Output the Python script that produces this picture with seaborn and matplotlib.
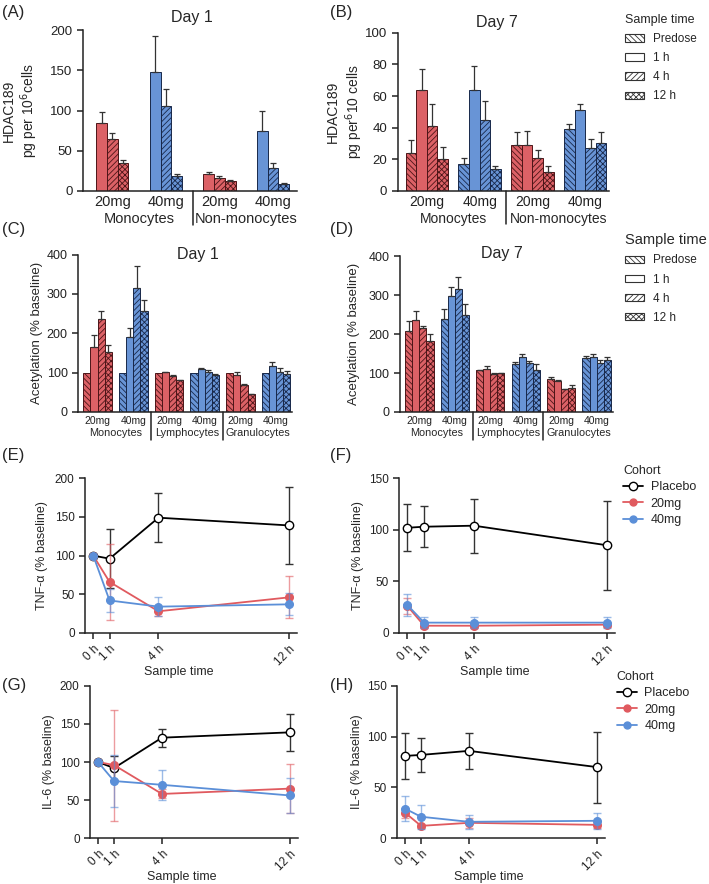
import numpy as np
import pandas as pd
import seaborn as sns
import matplotlib.pyplot as plt
from matplotlib.patches import Patch
from matplotlib.lines import Line2D

sns.set_style('ticks')
plt.rcParams['font.family'] = ['Liberation Sans', 'DejaVu Sans']
plt.rcParams['hatch.linewidth'] = 0.6
plt.rcParams['axes.linewidth'] = 1.1
plt.rcParams['axes.edgecolor'] = '#222222'
plt.rcParams['xtick.color'] = '#222222'
plt.rcParams['ytick.color'] = '#222222'

RED, BLUE = '#dc6166', '#6894d6'
RED_DK, BLUE_DK = '#4d1518', '#18284a'
ERR = '#333333'

# ---- data ----
doses = ['20mg', '40mg']
times_d1 = ['1 h', '4 h', '12 h']
times_d7 = ['Predose', '1 h', '4 h', '12 h']
hdac_cells = ['Monocytes', 'Non-monocytes']
acet_cells = ['Monocytes', 'Lymphocytes', 'Granulocytes']

# rows: 20mg / 40mg for each cell type, columns: sample time
hdac_d1_mean = [[85, 65, 35], [148, 106, 18], [21, 16, 12], [75, 29, 9]]
hdac_d1_err = [[13, 7, 3], [45, 21, 3], [3, 3, 2], [25, 6, 1]]
hdac_d7_mean = [[24, 64, 41, 20], [17, 64, 45, 14], [29, 29, 21, 12], [39, 51, 27, 30]]
hdac_d7_err = [[8, 13, 14, 8], [4, 15, 12, 2], [8, 9, 5, 4], [3, 4, 6, 7]]

acet_d1_mean = [[100, 165, 235, 153], [100, 190, 316, 257], [100, 101, 91, 80],
                [100, 108, 101, 95], [100, 93, 68, 45], [100, 116, 102, 97]]
acet_d1_err = [[0, 30, 21, 17], [0, 24, 54, 28], [0, 1, 2, 2],
               [0, 3, 5, 2], [0, 9, 3, 1], [0, 11, 9, 7]]
acet_d7_mean = [[208, 236, 216, 183], [240, 298, 317, 248], [107, 111, 98, 100],
                [122, 141, 126, 109], [84, 79, 58, 62], [139, 142, 127, 134]]
acet_d7_err = [[25, 24, 4, 18], [25, 24, 31, 29], [2, 7, 1, 1],
               [6, 8, 6, 13], [6, 3, 1, 8], [6, 8, 6, 7]]

hours = [0, 1, 4, 12]
hour_labels = ['0 h', '1 h', '4 h', '12 h']
cohorts = ['Placebo', '20mg', '40mg']

# rows: Placebo, 20mg, 40mg
tnf_d1_mean = [[100, 96, 149, 139], [100, 66, 28, 46], [100, 42, 34, 37]]
tnf_d1_sd = [[0, 38, 32, 50], [0, 49, 6, 27], [0, 15, 12, 14]]
tnf_d7_mean = [[102, 103, 104, 85], [26, 7, 7, 8], [27, 10, 10, 10]]
tnf_d7_sd = [[23, 20, 26, 43], [8, 2, 2, 2], [11, 5, 5, 5]]
il6_d1_mean = [[100, 92, 132, 139], [100, 96, 58, 65], [100, 75, 70, 56]]
il6_d1_sd = [[0, 16, 12, 24], [0, 73, 6, 32], [0, 34, 20, 23]]
il6_d7_mean = [[81, 82, 86, 70], [25, 12, 15, 13], [29, 21, 16, 17]]
il6_d7_sd = [[23, 17, 18, 35], [5, 2, 5, 3], [12, 12, 7, 8]]

HATCH = {'Predose': '\\\\\\\\\\\\', '1 h': '', '4 h': '//////', '12 h': 'xxxxxx'}
LINE_COL = {'Placebo': 'black', '20mg': '#e05a5f', '40mg': '#5b8fd8'}


def bar_panel(ax, cells, times, means, errs, width, fs_tick, fs_cell, cell_off, sep):
    groups = [f'{d} {c}' for c in cells for d in doses]
    df = pd.DataFrame([(g, t, m) for g, row in zip(groups, means) for t, m in zip(times, row)],
                      columns=['group', 'time', 'value'])
    sns.barplot(data=df, x='group', y='value', hue='time', order=groups, hue_order=times,
                width=width, errorbar=None, legend=False, ax=ax, linewidth=0.7)
    slot = width / len(times)
    for bar in list(ax.patches):
        xc = bar.get_x() + bar.get_width() / 2
        gi = int(round(xc))
        ti = int((xc - gi + width / 2) // slot)
        red = gi % 2 == 0
        bar.set_facecolor(RED if red else BLUE)
        bar.set_edgecolor(RED_DK if red else BLUE_DK)
        bar.set_hatch(HATCH[times[ti]])
        e = errs[gi][ti]
        if e > 0:
            ax.errorbar(xc, bar.get_height(), yerr=[[0], [e]], fmt='none', ecolor=ERR,
                        elinewidth=0.9, capsize=2.2, capthick=0.9)
    ax.set_xticks(range(len(groups)))
    ax.set_xticklabels(doses * len(cells), fontsize=fs_tick)
    ax.tick_params(axis='x', length=0, pad=3)
    ax.set_xlim(-0.55, len(groups) - 0.55)
    ax.set_xlabel('')
    trans = ax.get_xaxis_transform()
    for k, c in enumerate(cells):
        ax.annotate(c, xy=(2 * k + 0.5, 0), xycoords=trans, xytext=(0, -cell_off),
                    textcoords='offset points', ha='center', va='center', fontsize=fs_cell)
        if k > 0:
            ax.plot([2 * k - 0.5] * 2, [0, -sep], transform=trans, clip_on=False,
                    color='#222222', lw=1.1)
    sns.despine(ax=ax)


def line_panel(ax, means, sds, ymax, step, ylabel):
    for name, m, s in zip(cohorts, means, sds):
        m, s = np.array(m, float), np.array(s, float)
        c = LINE_COL[name]
        keep = s > 0
        ax.errorbar(np.array(hours)[keep], m[keep], yerr=s[keep], fmt='none',
                    ecolor=ERR if name == 'Placebo' else c,
                    alpha=1 if name == 'Placebo' else 0.6,
                    elinewidth=1, capsize=3, capthick=1)
        df = pd.DataFrame({'hour': hours, 'value': m})
        sns.lineplot(data=df, x='hour', y='value', ax=ax, color=c, lw=1.3, marker='o',
                     markersize=6 if name == 'Placebo' else 5.5,
                     markerfacecolor='white' if name == 'Placebo' else c,
                     markeredgecolor=c, markeredgewidth=1, errorbar=None)
    ax.set_xlim(-0.5, 12.5)
    ax.set_xticks(hours)
    ax.set_xticklabels(hour_labels, rotation=45, ha='right', rotation_mode='anchor', fontsize=8.5)
    ax.set_ylim(0, ymax)
    ax.set_yticks(np.arange(0, ymax + 1, step))
    ax.tick_params(axis='y', labelsize=8.5, length=4, width=1.1)
    ax.tick_params(axis='x', length=4, width=1.1)
    ax.set_xlabel('Sample time', fontsize=9)
    ax.xaxis.set_label_coords(0.44, -0.215)
    ax.set_ylabel(ylabel, fontsize=9)
    sns.despine(ax=ax)


fig = plt.figure(figsize=(7.09, 8.84), dpi=100)

axA = fig.add_axes([0.117, 0.784, 0.302, 0.182])
axB = fig.add_axes([0.561, 0.784, 0.298, 0.179])
axC = fig.add_axes([0.110, 0.534, 0.302, 0.178])
axD = fig.add_axes([0.564, 0.534, 0.300, 0.176])
axE = fig.add_axes([0.120, 0.284, 0.299, 0.175])
axF = fig.add_axes([0.563, 0.284, 0.305, 0.175])
axG = fig.add_axes([0.127, 0.052, 0.293, 0.172])
axH = fig.add_axes([0.560, 0.052, 0.293, 0.172])

# HDAC panels
bar_panel(axA, hdac_cells, times_d1, hdac_d1_mean, hdac_d1_err, 0.6, 10.5, 10.5, 20, 0.21)
axA.set_ylim(0, 200)
axA.set_yticks(range(0, 201, 50))
bar_panel(axB, hdac_cells, times_d7, hdac_d7_mean, hdac_d7_err, 0.8, 10, 10, 20, 0.21)
axB.set_ylim(0, 100)
axB.set_yticks(range(0, 101, 20))
axA.set_ylabel('HDAC189\npg per 10$^6$cells', fontsize=10)
axB.set_ylabel('HDAC189\npg per$^6$10 cells', fontsize=10)
axA.yaxis.set_label_coords(-0.20, 0.5)
axB.yaxis.set_label_coords(-0.156, 0.5)
for ax in (axA, axB):
    ax.tick_params(axis='y', labelsize=9.5, length=4, width=1.1)
axA.text(0.51, 1.075, 'Day 1', transform=axA.transAxes, ha='center', va='center', fontsize=11.5)
axB.text(0.47, 1.063, 'Day 7', transform=axB.transAxes, ha='center', va='center', fontsize=11.5)

# Acetylation panels
for ax, mean, err, title, tx, ty in ((axC, acet_d1_mean, acet_d1_err, 'Day 1', 0.56, 1.0),
                                     (axD, acet_d7_mean, acet_d7_err, 'Day 7', 0.48, 1.02)):
    bar_panel(ax, acet_cells, times_d7, mean, err, 0.8, 7.5, 7.8, 15, 0.18)
    ax.set_ylim(0, 400)
    ax.set_yticks(range(0, 401, 100))
    ax.tick_params(axis='y', labelsize=9, length=4, width=1.1)
    ax.set_ylabel('Acetylation (% baseline)', fontsize=9.5)
    ax.text(tx, ty, title, transform=ax.transAxes, ha='center', va='center', fontsize=11.5)
axC.yaxis.set_label_coords(-0.164, 0.5)
axD.yaxis.set_label_coords(-0.188, 0.5)

# Cytokine panels
line_panel(axE, tnf_d1_mean, tnf_d1_sd, 200, 50, 'TNF-α (% baseline)')
line_panel(axF, tnf_d7_mean, tnf_d7_sd, 150, 50, 'TNF-α (% baseline)')
line_panel(axG, il6_d1_mean, il6_d1_sd, 200, 50, 'IL-6 (% baseline)')
line_panel(axH, il6_d7_mean, il6_d7_sd, 150, 50, 'IL-6 (% baseline)')
axE.yaxis.set_label_coords(-0.175, 0.5)
axF.yaxis.set_label_coords(-0.162, 0.5)
axG.yaxis.set_label_coords(-0.168, 0.5)
axH.yaxis.set_label_coords(-0.163, 0.5)

# panel letters
for lab, x, y in (('(A)', 0.003, 0.986), ('(B)', 0.465, 0.986), ('(C)', 0.003, 0.740),
                  ('(D)', 0.465, 0.740), ('(E)', 0.003, 0.485), ('(F)', 0.465, 0.485),
                  ('(G)', 0.003, 0.225), ('(H)', 0.465, 0.225)):
    fig.text(x, y, lab, fontsize=12, va='center', ha='left')

# legends
time_handles = [Patch(facecolor='white', edgecolor='#333333', hatch=HATCH[t], lw=0.8) for t in times_d7]
fig.legend(time_handles, times_d7, title='Sample time', loc='upper left',
           bbox_to_anchor=(0.881, 0.984), frameon=False, alignment='left', fontsize=8.5,
           title_fontsize=9, handlelength=1.6, handleheight=0.6, handletextpad=0.8,
           labelspacing=0.6, borderpad=0, borderaxespad=0)
fig.legend(time_handles, times_d7, title='Sample time', loc='upper left',
           bbox_to_anchor=(0.881, 0.736), frameon=False, alignment='left', fontsize=8.5,
           title_fontsize=10.5, handlelength=1.6, handleheight=0.6, handletextpad=0.8,
           labelspacing=0.6, borderpad=0, borderaxespad=0)

cohort_handles = [Line2D([0], [0], color=LINE_COL[c], lw=1.3, marker='o',
                         markersize=6 if c == 'Placebo' else 5,
                         markerfacecolor='white' if c == 'Placebo' else LINE_COL[c],
                         markeredgecolor=LINE_COL[c]) for c in cohorts]
for y, x in ((0.474, 0.879), (0.241, 0.870)):
    fig.legend(cohort_handles, cohorts, title='Cohort', loc='upper left',
               bbox_to_anchor=(x, y), frameon=False, alignment='left', fontsize=9,
               title_fontsize=9, handlelength=1.6, handletextpad=0.6,
               labelspacing=0.35, borderpad=0, borderaxespad=0)

fig.savefig('out.png', dpi=100)
